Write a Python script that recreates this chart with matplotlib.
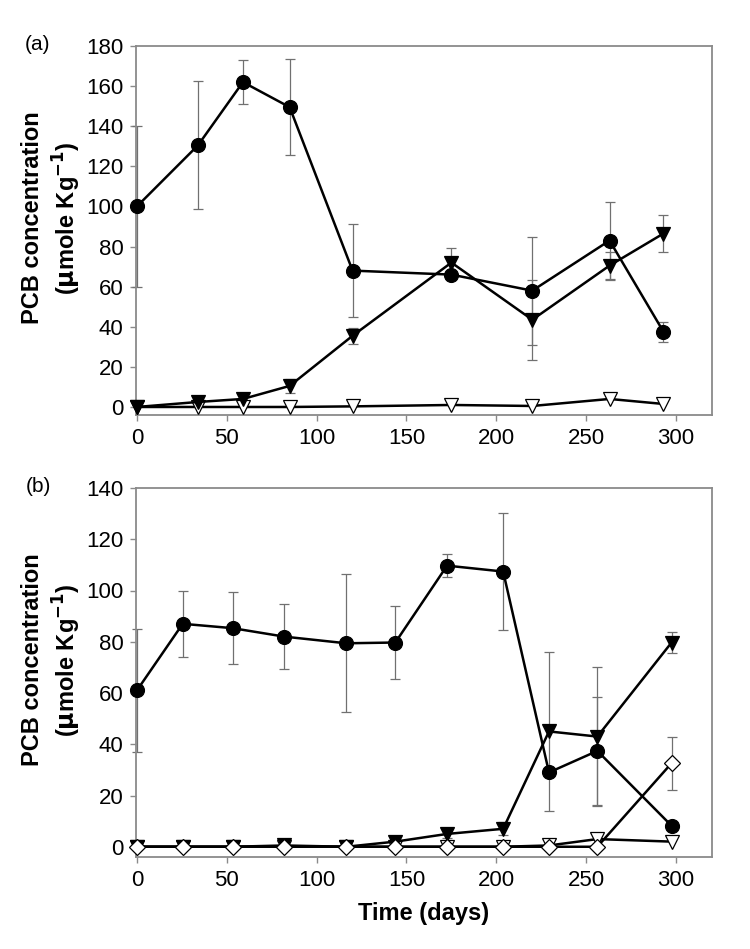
import numpy as np
import matplotlib
matplotlib.use("Agg")
import matplotlib.pyplot as plt

plt.rcParams['font.family'] = ['Liberation Sans', 'DejaVu Sans']

# ---------------- Data: panel (a) ----------------
time_a = [0, 34, 59, 85, 120, 175, 220, 263, 293]
circ_a = [100, 130.5, 162, 149.5, 68, 66, 58, 83, 37.5]
circ_a_err = [40, 32, 11, 24, 23, np.nan, 27, 19, 5]
ftri_a = [0, 2.5, 4, 10.5, 35.5, 72, 43.5, 70.5, 86.5]
ftri_a_err = [np.nan, np.nan, np.nan, 3.5, 4, 7.5, 20, 7, 9]
otri_a = [0, 0, 0, 0, 0.3, 1, 0.5, 4, 1.5]

# ---------------- Data: panel (b) ----------------
time_b = [0, 25.5, 53.3, 82, 116.5, 143.8, 172.6, 203.8, 229.3, 256.2, 297.5]
circ_b = [61, 87, 85.3, 82, 79.4, 79.7, 109.7, 107.4, 29, 37.4, 8.2]
circ_b_err = [24, 13, 14, 12.7, 27, 14.3, 4.5, 23, np.nan, 21, np.nan]
ftri_b = [0, 0, 0, 0.5, 0, 2, 5, 7, 45, 43, 79.7]
ftri_b_err = [np.nan, np.nan, np.nan, np.nan, np.nan, np.nan, 1.5, 2.5, 31, 27, 4]
otri_b = [0, 0, 0, 0, 0, 0, 0, 0, 0.5, 3, 2]
diam_b = [0, 0, 0, 0, 0, 0, 0, 0, 0, 0, 32.6]
diam_b_err = [np.nan] * 10 + [10.4]

x_ticks = [0, 50, 100, 150, 200, 250, 300]
y_ticks_a = [0, 20, 40, 60, 80, 100, 120, 140, 160, 180]
y_ticks_b = [0, 20, 40, 60, 80, 100, 120, 140]

W, H = 750, 949
fig = plt.figure(figsize=(W / 100, H / 100), dpi=100)

def ax_rect(l, r, t, b):
    return [l / W, 1 - b / H, (r - l) / W, (b - t) / H]

ax_a = fig.add_axes(ax_rect(136, 712, 46, 415))
ax_b = fig.add_axes(ax_rect(136, 712, 488, 857))

GRAY = '#8a8a8a'
ERR = '#707070'
LW = 1.8
MS = 10

def series(ax, x, y, err, marker, face, ms=MS, z=3):
    if err is not None:
        ax.errorbar(x, y, yerr=err, fmt='none', ecolor=ERR, elinewidth=0.9,
                    capsize=3.5, capthick=0.9, zorder=2, clip_on=False)
    ax.plot(x, y, color='black', lw=LW, marker=marker, ms=ms,
            mfc=face, mec='black', mew=0.9, zorder=z, clip_on=False)

def style(ax, yt, ylim):
    ax.set_xlim(-0.5, 320)
    ax.set_ylim(*ylim)
    ax.set_xticks(x_ticks)
    ax.set_yticks(yt)
    for s in ax.spines.values():
        s.set_color(GRAY)
        s.set_linewidth(1.3)
    ax.tick_params(axis='both', direction='out', length=4, width=1.0,
                   color=GRAY, labelsize=16, pad=5, top=False, right=False)

# Panel (a)
series(ax_a, time_a, otri_a, None, 'v', 'white', z=3)
series(ax_a, time_a, ftri_a, ftri_a_err, 'v', 'black', z=4)
series(ax_a, time_a, circ_a, circ_a_err, 'o', 'black', z=5)
style(ax_a, y_ticks_a, (-4, 180))

# Panel (b)
series(ax_b, time_b, otri_b, None, 'v', 'white', z=3)
series(ax_b, time_b, ftri_b, ftri_b_err, 'v', 'black', z=4)
series(ax_b, time_b, circ_b, circ_b_err, 'o', 'black', z=5)
series(ax_b, time_b, diam_b, diam_b_err, 'D', 'white', ms=8, z=6)
style(ax_b, y_ticks_b, (-4, 140))

ax_b.set_xlabel('Time (days)', fontsize=17, fontweight='bold', labelpad=8)

# Panel letters
fig.text(38 / W, 1 - 45 / H, '(a)', fontsize=15, ha='center', va='center')
fig.text(38 / W, 1 - 487 / H, '(b)', fontsize=15, ha='center', va='center')

# Y labels (two lines)
for yc in (218, 660):
    fig.text(33 / W, 1 - yc / H, 'PCB concentration', rotation=90,
             fontsize=17, fontweight='bold', ha='center', va='center')
    fig.text(67 / W, 1 - yc / H, r'($\mathbf{\mu}$mole Kg$^{\mathbf{-1}}$)',
             rotation=90, fontsize=17, fontweight='bold', ha='center', va='center')

fig.savefig('out.png', dpi=100)
